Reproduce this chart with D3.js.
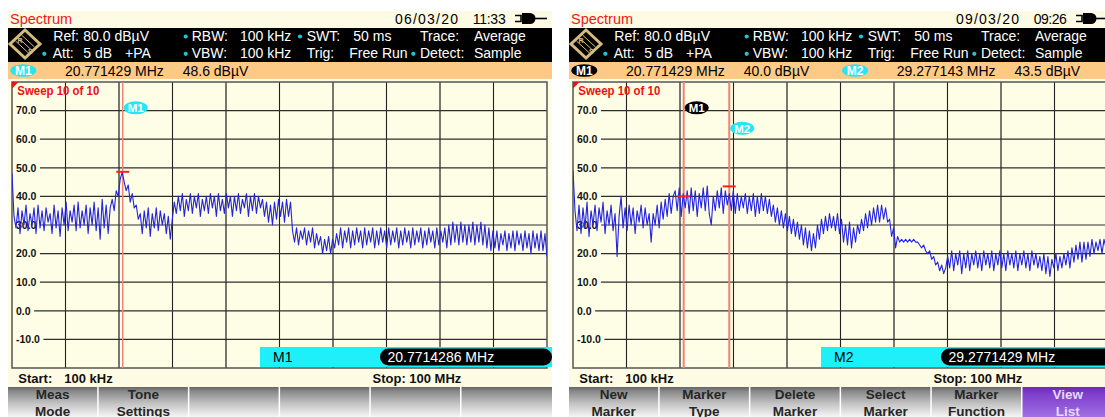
<!DOCTYPE html>
<html><head><meta charset="utf-8">
<script src="https://cdn.jsdelivr.net/npm/d3@7"></script>
<style>
body{margin:0;background:#fff;overflow:hidden;}
svg{display:block;font-family:"Liberation Sans",Arial,sans-serif;}
</style>
</head><body>
<svg id="c" width="1105" height="417"></svg>
<script>
// ---------------- data ----------------
const freqStart = 0.1, freqStop = 100;           // MHz
const levelMin = -20, levelMax = 80;             // dBµV
const yTicks = [70, 60, 50, 40, 30, 20, 10, 0, -10];
const yTickLabels = ["70.0", "60.0", "50.0", "40.0", "30.0", "20.0", "10.0", "0.0", "-10.0"];

const traceLeft = [
  48,33,29,36,27,35,30,37,28,34,
  30,36,27,37,29,35,28,36,31,34,
  27,37,29,35,26,36,30,38,28,35,
  31,37,28,38,29,35,30,37,27,36,
  30,38,28,36,25,39,29,37,27,36,
  39,35,42,40,46,48.6,45,42,44,38,
  41,36,37,32,34,27,35,29,36,26,
  34,29,36,28,35,30,34,27,33,25,
  32,38,34,40,35,41,33,39,35,41,
  34,40,36,41,33,39,35,40,34,41,
  36,40,33,41,35,39,34,41,36,40,
  33,40,35,41,34,39,36,41,33,40,
  35,41,34,40,36,39,33,38,31,37,
  30,38,32,39,33,38,31,39,33,38,
  28,24,29,23,28,25,29,23,28,24,
  29,22,27,23,26,20,25,21,26,20,
  25,22,27,23,29,22,28,24,29,22,
  28,23,29,24,28,22,29,23,28,24,
  29,22,28,23,29,24,28,22,29,23,
  28,24,29,22,28,23,29,24,28,22,
  29,23,28,24,29,22,28,23,29,24,
  28,22,29,23,28,24,29,22,30,23,
  31,24,30,23,31,24,30,23,30,24,
  31,23,30,24,31,23,30,22,29,21,
  28,22,28,21,27,23,28,21,27,22,
  28,21,28,23,27,21,28,22,27,20,
  28,22,27,21,28,21,27,19
];
const traceRight = [
  49,35,28,37,27,36,29,38,26,35,
  30,37,28,36,31,38,27,35,30,37,
  28,34,19,33,40,29,36,28,37,30,
  36,27,35,31,37,29,36,30,34,24,
  34,30,37,29,38,32,39,33,41,34,
  40,42,35,43,33,41,36,42,34,43,
  35,42,33,41,36,43,35,43.6,34,30,
  40,35,42,36,43,34,42,37,41,35,
  42,34,41,35,40,36,41,34,40,35,
  41,33,40,34,41,35,40,34,39,33,
  37,31,36,30,35,29,34,28,33,27,
  32,26,31,25,30,23,29,22,28,21,
  27,22,30,25,32,27,33,28,34,29,
  33,28,34,27,32,24,30,23,31,22,
  29,24,30,27,32,28,34,29,35,30,
  36,31,37,31,37,32,36,31,32,26,
  29,22,26,24,25,24,25,24,25,24,
  25,24,24,23,22,23,21,20,21,18,
  19,16,17,14,16,13,15,19,15,21,
  14,20,16,21,13,20,15,21,14,20,
  16,21,15,20,14,21,16,20,15,21,
  14,20,16,21,15,20,14,21,16,20,
  15,21,14,20,16,21,15,20,14,21,
  16,20,15,19,14,20,13,19,12,18,
  15,20,14,19,15,20,16,21,15,22,
  17,23,18,24,17,24,18,24,19,25,
  20,24,21,25,20,25,22,24
];
const markersLeft  = [{name:"M1", freq:20.7714286, level:48.6, active:true}];
const markersRight = [{name:"M1", freq:20.7714286, level:40.0, active:false},
                      {name:"M2", freq:29.2771429, level:43.5, active:true}];
const datesLeft  = ["06/03/20", "11:33"];
const datesRight = ["09/03/20", "09:26"];
const softkeysLeft  = [["Meas","Mode"],["Tone","Settings"],["",""],["",""],["",""],["",""]];
const softkeysRight = [["New","Marker"],["Marker","Type"],["Delete","Marker"],["Select","Marker"],["Marker","Function"],["View","List"]];
const headerRow1 = ["Ref:", "80.0 dBµV", "RBW:", "100 kHz", "SWT:", "50 ms", "Trace:", "Average"];
const headerRow2 = ["Att:", "5 dB", "+PA", "VBW:", "100 kHz", "Trig:", "Free Run", "Detect:", "Sample"];

// ---------------- drawing ----------------
const svg = d3.select("#c");
const defs = svg.append("defs");
const gk = defs.append("linearGradient").attr("id","gKey").attr("x1",0).attr("y1",0).attr("x2",0).attr("y2",1);
[[0,"#666"],[0.15,"#8a8a8a"],[0.55,"#c2c2c2"],[1,"#f6f6f6"]].forEach(([o,c])=>gk.append("stop").attr("offset",o).attr("stop-color",c));
const gp = defs.append("linearGradient").attr("id","gPur").attr("x1",0).attr("y1",0).attr("x2",0).attr("y2",1);
[[0,"#6a2ab5"],[0.25,"#8040cc"],[1,"#a070e4"]].forEach(([o,c])=>gp.append("stop").attr("offset",o).attr("stop-color",c));

const fmt6 = d3.format(".6f"), fmt7 = d3.format(".7f"), fmt1 = d3.format(".1f");

function txt(g, x, y, s, o={}) {
  const t = g.append("text").attr("x", x).attr("y", y).text(s)
    .attr("font-size", o.size || 14).attr("fill", o.fill || "#000");
  if (o.weight) t.attr("font-weight", o.weight);
  if (o.anchor) t.attr("text-anchor", o.anchor);
  if (o.len) t.attr("textLength", o.len).attr("lengthAdjust", o.adj || "spacing");
  return t;
}

function panel(ox, id, trace, markers, dates, softkeys) {
  const g = svg.append("g").attr("transform", `translate(${ox},0)`);
  const x = d3.scaleLinear().domain([freqStart, freqStop]).range([12, 547]);
  const y = d3.scaleLinear().domain([levelMin, levelMax]).range([368, 82]);

  // backgrounds
  g.append("rect").attr("x",8).attr("y",11).attr("width",544).attr("height",17).attr("fill","#fefbe4");
  g.append("rect").attr("x",8).attr("y",28).attr("width",544).attr("height",34).attr("fill","#000");
  g.append("rect").attr("x",8).attr("y",62).attr("width",544).attr("height",17).attr("fill","#fcca86");
  g.append("rect").attr("x",8).attr("y",79).attr("width",544).attr("height",289).attr("fill","#fefee6");
  g.append("rect").attr("x",8).attr("y",368).attr("width",544).attr("height",19).attr("fill","#fefbe4");

  // title row
  txt(g, 10, 24, "Spectrum", {fill:"#f01818", size:14.5});
  txt(g, 395, 23.5, dates[0], {size:14, len:63});
  txt(g, 472.7, 23.5, dates[1], {size:14, len:33});
  // plug icon
  g.append("path").attr("d","M515,15.5H521V21.5H515").attr("fill","none").attr("stroke","#000").attr("stroke-width",1.6);
  g.append("path").attr("d","M522,13H530A5.5,5.5 0 0 1 530,24H522Z").attr("fill","#000");
  g.append("line").attr("x1",535).attr("x2",547).attr("y1",18.5).attr("y2",18.5).attr("stroke","#000").attr("stroke-width",1.6);

  // R&S logo
  const lg = g.append("g").attr("stroke","#d6bb7e").attr("fill","none");
  lg.append("path").attr("d","M25,30L40,44L25,58L10,44Z").attr("stroke-width",3);
  lg.append("path").attr("d","M18.5,38L31.5,50M21.5,35L34.5,47M15.5,41L28.5,53").attr("stroke-width",1);
  txt(g, 17.5, 43, "R", {size:7, fill:"#d6bb7e", weight:"bold"});
  txt(g, 28, 54, "S", {size:7, fill:"#d6bb7e", weight:"bold"});

  // header rows
  const r1x = [53.3, 83.3, 191.7, 240, 306.7, 353.3, 420, 474];
  headerRow1.forEach((s,i)=>txt(g, r1x[i], 41, s, {fill:"#fff"}));
  const r2x = [52.7, 83.3, 125, 191.7, 240, 306.7, 349.3, 420, 474];
  headerRow2.forEach((s,i)=>txt(g, r2x[i], 58.3, s, {fill:"#fff"}));
  [[185.7,36.5],[300,36.5],[44.3,53.8],[185.7,53.8],[413.3,53.8]].forEach(([cx,cy])=>
    g.append("circle").attr("cx",cx).attr("cy",cy).attr("r",2.1).attr("fill","#22c4d4"));

  // orange marker readout row
  markers.forEach((m,k)=>{
    const dx = k*270.8;
    g.append("ellipse").attr("cx",23.3+dx).attr("cy",70.5).attr("rx",13).attr("ry",6.3)
      .attr("fill", m.active ? "#26e6f4" : "#000");
    txt(g, 23.3+dx, 75, m.name, {fill:"#fff", size:12, weight:"bold", anchor:"middle"});
    txt(g, 65+dx, 75.5, fmt6(m.freq));
    txt(g, 135+dx, 75.5, "MHz");
    txt(g, 182.7+dx, 75.5, fmt1(m.level) + " dBµV");
  });

  // grid
  const grid = g.append("g").attr("stroke","#2e2e2e").attr("stroke-width",1.2);
  d3.range(1,10).forEach(k=>{
    const xv = x(freqStart + k*(freqStop-freqStart)/10);
    grid.append("line").attr("x1",xv).attr("x2",xv).attr("y1",82).attr("y2",368)
      .attr("stroke", k%2 ? "#222" : "#555").attr("stroke-width", k%2 ? 1.1 : 1.6);
  });
  yTicks.forEach((v,i)=>{
    const t = txt(g, 16, y(v)+3.8, yTickLabels[i], {size:10.5, weight:"bold", fill:"#111"});
    const w = t.node().getComputedTextLength();
    grid.append("line").attr("x1",16+w+3.5).attr("x2",547).attr("y1",y(v)).attr("y2",y(v));
  });
  g.append("rect").attr("x",12).attr("y",82).attr("width",535).attr("height",286)
    .attr("fill","none").attr("stroke","#555").attr("stroke-width",1.5);

  // sweep label
  g.append("path").attr("d","M12,82H18.5L12,88.5Z").attr("fill","#f01010");
  txt(g, 17.3, 95, "Sweep 10 of 10", {size:12.5, weight:"bold", fill:"#f01010", len:82, adj:"spacingAndGlyphs"});

  // marker lines
  markers.forEach(m=>{
    g.append("line").attr("x1",x(m.freq)).attr("x2",x(m.freq)).attr("y1",82).attr("y2",368)
      .attr("stroke","#f28278").attr("stroke-width", markers.length>1 ? 2 : 1.4);
  });

  // trace
  defs.append("clipPath").attr("id","clip"+id).append("rect").attr("x",12).attr("y",82).attr("width",535).attr("height",286);
  const n = trace.length;
  const line = d3.line()
    .x((d,i)=>x(freqStart + i*(freqStop-freqStart)/(n-1)))
    .y(d=>y(d));
  g.append("path").datum(trace).attr("d",line).attr("fill","none")
    .attr("stroke","#2323e0").attr("stroke-width",1.1).attr("stroke-linejoin","round")
    .attr("clip-path",`url(#clip${id})`);

  // marker level bars and labels
  markers.forEach((m,k)=>{
    g.append("line").attr("x1",x(m.freq)-6.5).attr("x2",x(m.freq)+6.5)
      .attr("y1",y(m.level)).attr("y2",y(m.level)).attr("stroke","#ff2020").attr("stroke-width",2);
    const ly = 107.8 + k*20.5;
    g.append("ellipse").attr("cx",x(m.freq)+13).attr("cy",ly).attr("rx",12).attr("ry",6.5)
      .attr("fill", m.active ? "#26e6f4" : "#000");
    txt(g, x(m.freq)+13, ly+4.2, m.name, {fill:"#fff", size:11.5, weight:"bold", anchor:"middle"});
  });

  // active marker info bar
  const am = markers.filter(m=>m.active).slice(-1)[0];
  g.append("rect").attr("x",260).attr("y",347).attr("width",292).attr("height",20).attr("fill","#1ef0fa");
  txt(g, 273, 362, am.name, {size:14});
  g.append("rect").attr("x",380).attr("y",348.5).attr("width",172).attr("height",17).attr("rx",8.5).attr("fill","#000");
  txt(g, 387.5, 362, fmt7(am.freq) + " MHz", {fill:"#fff", size:14});

  // start/stop row
  txt(g, 18.3, 383, "Start:", {size:13, weight:"bold", fill:"#111"});
  txt(g, 64.3, 383, "100 kHz", {size:13, weight:"bold", fill:"#111"});
  txt(g, 372.5, 383, "Stop: 100 MHz", {size:13, weight:"bold", fill:"#111"});

  // softkeys
  softkeys.forEach((s,k)=>{
    const bx = 8 + k*90.7;
    const last = k === softkeys.length-1;
    const purple = s[0] === "View";
    g.append("rect").attr("x",bx).attr("y",387).attr("width",last ? 552-bx : 89.2).attr("height",30)
      .attr("fill", purple ? "url(#gPur)" : "url(#gKey)");
    const cx = bx + (last ? (552-bx)/2 : 44.6);
    const col = purple ? "#e6dafc" : "#262626";
    txt(g, cx, 399, s[0], {size:13.5, weight:"bold", fill:col, anchor:"middle"});
    txt(g, cx, 415.5, s[1], {size:13.5, weight:"bold", fill:col, anchor:"middle"});
  });
}

panel(0, "L", traceLeft, markersLeft, datesLeft, softkeysLeft);
panel(561, "R", traceRight, markersRight, datesRight, softkeysRight);
</script>
</body></html>
